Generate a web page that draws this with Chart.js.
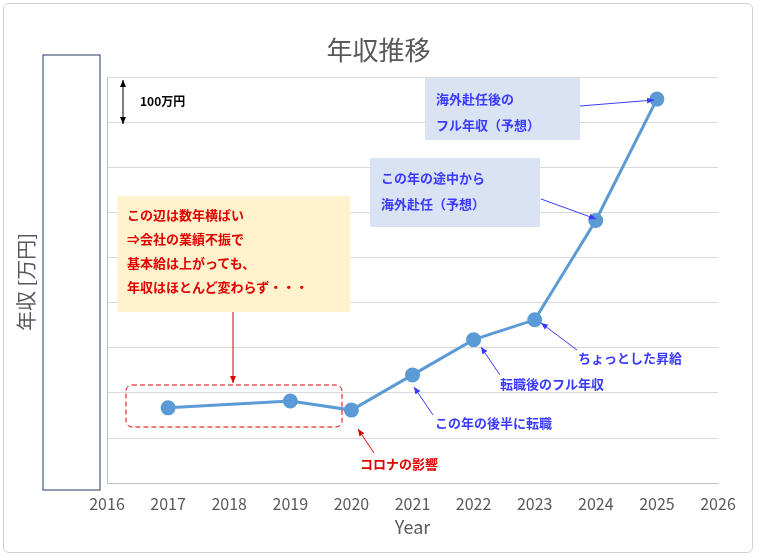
<!DOCTYPE html>
<html>
<head>
<meta charset="utf-8">
<script src="https://cdn.jsdelivr.net/npm/chart.js@4"></script>
<style>
body { margin: 0; background: #fff; font-family: "Noto Sans CJK JP", sans-serif; }
#wrap { position: relative; width: 757px; height: 557px; }
#frame { position: absolute; left: 3px; top: 3px; width: 748px; height: 548px; border: 1px solid #d0d0d0; border-radius: 6px; }
canvas { position: absolute; left: 0; top: 0; }
svg { position: absolute; left: 0; top: 0; }
.t { position: absolute; white-space: nowrap; font-weight: bold; }
</style>
</head>
<body>
<div id="wrap">
  <div id="frame"></div>
  <canvas id="c" width="757" height="557"></canvas>
  <svg width="757" height="557" xmlns="http://www.w3.org/2000/svg">
    <defs>
      <marker id="ab" markerWidth="8" markerHeight="8" refX="7" refY="4" orient="auto"><path d="M0,1 L7,4 L0,7 z" fill="#3a3aff"/></marker>
      <marker id="ar" markerWidth="8" markerHeight="8" refX="7" refY="4" orient="auto"><path d="M0,1 L7,4 L0,7 z" fill="#e00000"/></marker>
      <marker id="ak" markerWidth="8" markerHeight="8" refX="7" refY="4" orient="auto-start-reverse"><path d="M0,1 L7,4 L0,7 z" fill="#000"/></marker>
    </defs>
    <rect x="43" y="55" width="57" height="435" fill="#fff" stroke="#1f3864" stroke-width="1"/>
    <text x="0" y="0" transform="translate(34,282) rotate(-90)" text-anchor="middle" font-size="20" fill="#595959" font-family="Noto Sans CJK JP">年収 [万円]</text>
    <line x1="123" y1="80" x2="123" y2="124" stroke="#000" stroke-width="1" marker-start="url(#ak)" marker-end="url(#ak)"/>
    <rect x="117" y="196" width="233" height="116" fill="#fff2cc"/>
    <rect x="126" y="385" width="216" height="42" rx="6" fill="none" stroke="#e00000" stroke-dasharray="5,3"/>
    <line x1="233" y1="312" x2="233" y2="383" stroke="#e00000" marker-end="url(#ar)"/>
    <line x1="374" y1="453" x2="358" y2="429" stroke="#e00000" marker-end="url(#ar)"/>
    <rect x="370" y="158" width="170" height="69" fill="#dae3f3"/>
    <rect x="425" y="78" width="155" height="62" fill="#dae3f3"/>
    <line x1="433" y1="415" x2="414" y2="387" stroke="#3a3aff" marker-end="url(#ab)"/>
    <line x1="500" y1="375" x2="481" y2="347" stroke="#3a3aff" marker-end="url(#ab)"/>
    <line x1="577" y1="350" x2="541" y2="323" stroke="#3a3aff" marker-end="url(#ab)"/>
    <line x1="541" y1="199" x2="596" y2="219" stroke="#3a3aff" marker-end="url(#ab)"/>
    <line x1="580" y1="106" x2="654" y2="100" stroke="#3a3aff" marker-end="url(#ab)"/>
  </svg>
  <div class="t" style="left:0;width:757px;top:30px;text-align:center;font-weight:normal;font-size:26px;color:#595959">年収推移</div>
  <div class="t" style="left:140px;top:92px;font-size:12px;color:#000">100万円</div>
  <div class="t" style="left:127px;top:203px;font-size:13px;line-height:24px;color:#e00000">この辺は数年横ばい<br>⇒会社の業績不振で<br>基本給は上がっても、<br>年収はほとんど変わらず・・・</div>
  <div class="t" style="left:360px;top:454px;font-size:13px;color:#e00000">コロナの影響</div>
  <div class="t" style="left:435px;top:413px;font-size:13px;color:#3a3aff">この年の後半に転職</div>
  <div class="t" style="left:500px;top:374px;font-size:13px;color:#3a3aff">転職後のフル年収</div>
  <div class="t" style="left:578px;top:348px;font-size:13px;color:#3a3aff">ちょっとした昇給</div>
  <div class="t" style="left:381px;top:165px;font-size:13px;line-height:26px;color:#3a3aff">この年の途中から<br>海外赴任（予想）</div>
  <div class="t" style="left:436px;top:86px;font-size:13px;line-height:26px;color:#3a3aff">海外赴任後の<br>フル年収（予想）</div>
</div>
<script>
// 年と年収（万円）
const years = [2017, 2019, 2020, 2021, 2022, 2023, 2024, 2025];
const income = [167, 182, 162, 240, 318, 362, 582, 851];
const xTicks = [2016, 2017, 2018, 2019, 2020, 2021, 2022, 2023, 2024, 2025, 2026];

new Chart(document.getElementById('c'), {
    type: 'line',
    data: {
        datasets: [{
            data: years.map((y, i) => ({ x: y, y: income[i] })),
            borderColor: '#5b9bd5',
            backgroundColor: '#5b9bd5',
            borderWidth: 3,
            pointRadius: 6,
            tension: 0
        }]
    },
    options: {
        responsive: false,
        animation: false,
        layout: { padding: { left: 107, right: 39, top: 77, bottom: 19 } },
        plugins: { legend: { display: false }, tooltip: { enabled: false } },
        scales: {
            x: {
                type: 'linear',
                min: xTicks[0],
                max: xTicks[xTicks.length - 1],
                afterBuildTicks: axis => { axis.ticks = xTicks.map(v => ({ value: v })); },
                grid: { display: false },
                border: { color: '#bfbfbf' },
                ticks: { color: '#595959', font: { size: 16, family: 'Noto Sans CJK JP' }, callback: v => String(v) },
                title: { display: true, text: 'Year', color: '#595959', font: { size: 18, family: 'Noto Sans CJK JP' }, padding: 0 }
            },
            y: {
                min: 0,
                max: 900,
                ticks: { display: false, stepSize: 100 },
                grid: { color: '#d9d9d9', drawTicks: false },
                border: { color: '#bfbfbf' }
            }
        }
    }
});
</script>
</body>
</html>
